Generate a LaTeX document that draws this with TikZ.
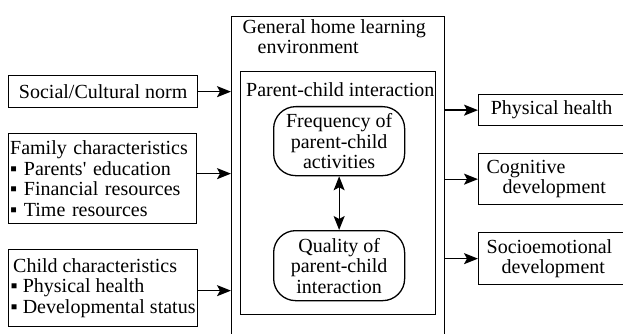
\documentclass[tikz,border=0pt]{standalone}
\usepackage{fontspec}
\setmainfont{Liberation Serif}
\newfontfamily\diagfont{Liberation Serif}
\usetikzlibrary{arrows.meta}
\begin{document}
\begin{tikzpicture}[x=1pt,y=-1pt,
  font=\diagfont\fontsize{20}{20.5}\selectfont,
  line width=1.3pt,
  box/.style={draw, rectangle, inner sep=0pt, align=left},
  pill/.style={draw, rectangle, rounded corners=22pt, inner sep=0pt, align=center},
  arr/.style={-{Stealth[length=14pt,width=11pt,inset=3pt]}},
  darr/.style={{Stealth[length=14pt,width=11pt,inset=3pt]}-{Stealth[length=14pt,width=11pt,inset=3pt]}}]
\useasboundingbox (0,0) rectangle (623,334);
\clip (0,0) rectangle (623,334);

% left-hand input boxes
\node[box, anchor=north west, minimum width=189pt, minimum height=32pt] (soc) at (8,75) {Social/Cultural norm};
\node[box, anchor=north west, minimum width=188pt, minimum height=90pt, text width=185pt] (fam) at (8,133)
  {Family characteristics\\▪ Parents\textquotesingle{} education\\▪ Financial resources\\▪ Time resources};
\node[box, anchor=north west, minimum width=189pt, minimum height=77pt] (child) at (8,249)
  {\hspace*{2.5pt}Child characteristics\\▪ Physical health\\▪ Developmental status};

% central environment frame (runs off the bottom edge)
\node[draw, rectangle, anchor=north west, minimum width=213pt, minimum height=330pt, inner sep=0pt] (big) at (231,16) {};
\node[anchor=base west, align=left, inner sep=0pt] (title) at (242,54)
  {General home learning\\\hspace*{15pt}environment};

% parent-child interaction frame
\node[draw, rectangle, anchor=north west, minimum width=195pt, minimum height=243pt, inner sep=0pt] (inner) at (240,71) {};
\node[anchor=base west, inner sep=0pt] (pci) at (245.5,96.5) {Parent-child interaction};
\node[pill, anchor=north west, minimum width=131pt, minimum height=69pt] (freq) at (273,106)
  {Frequency of\\parent-child\\activities};
\node[pill, anchor=north west, minimum width=131pt, minimum height=70pt] (qual) at (273,230)
  {Quality of\\parent-child\\interaction};
\draw[darr] (freq.south) -- (qual.north);

% outcome boxes
\node[box, anchor=north west, minimum width=146pt, minimum height=31pt] (phys) at (478,94) {Physical health};
\node[box, anchor=north west, minimum width=146pt, minimum height=51pt, text width=130pt] (cog) at (478,153)
  {Cognitive\\\hspace*{16pt}development};
\node[box, anchor=north west, minimum width=146pt, minimum height=52pt, text width=130pt] (socio) at (478,232)
  {Socioemotional\\\hspace*{15pt}development};

% connectors
\draw[arr] (soc.east) -- (soc.east -| big.west);
\draw[arr] ([yshift=5pt]fam.east) -- ([yshift=5pt]fam.east -| big.west);
\draw[arr] ([yshift=-2.5pt]child.east) -- ([yshift=-2.5pt]child.east -| big.west);
\draw[arr] (phys.west -| big.east) -- (phys.west);
\draw[arr] (cog.west -| big.east) -- (cog.west);
\draw[arr] (socio.west -| big.east) -- (socio.west);
\end{tikzpicture}
\end{document}
